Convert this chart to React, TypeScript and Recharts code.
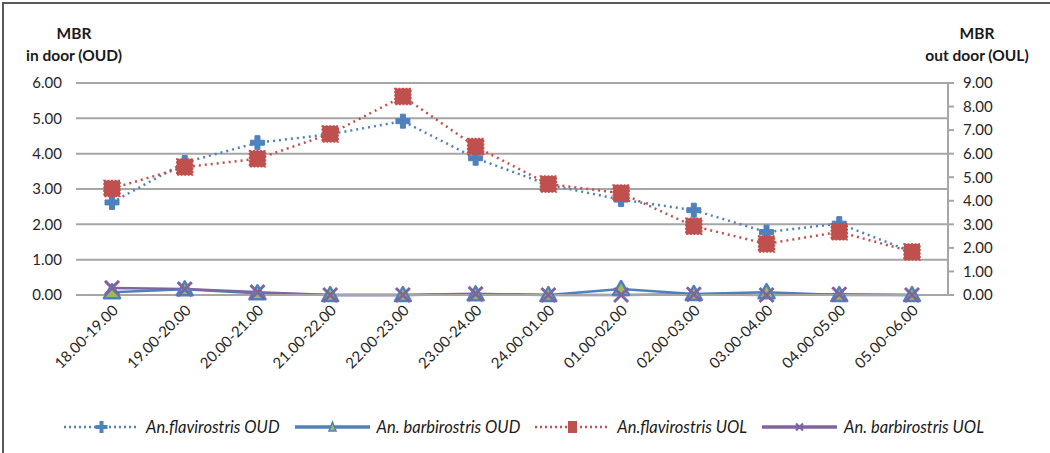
import { CartesianGrid, Line, LineChart, XAxis, YAxis } from "recharts";

const hours = [
  "18.00-19.00", "19.00-20.00", "20.00-21.00", "21.00-22.00", "22.00-23.00", "23.00-24.00",
  "24.00-01.00", "01.00-02.00", "02.00-03.00", "03.00-04.00", "04.00-05.00", "05.00-06.00",
];
const flavOUD = [2.62, 3.75, 4.31, 4.55, 4.92, 3.87, 3.12, 2.7, 2.4, 1.78, 2.02, 1.22];
const barbOUD = [0.08, 0.16, 0.05, 0, 0, 0.02, 0, 0.17, 0.03, 0.08, 0, 0];
const flavUOL = [4.52, 5.43, 5.78, 6.84, 8.43, 6.3, 4.71, 4.33, 2.92, 2.17, 2.68, 1.83];
const barbUOL = [0.3, 0.25, 0.12, 0, 0, 0.05, 0, 0, 0.03, 0, 0.03, 0];

const leftTicks = [0, 1, 2, 3, 4, 5, 6];
const rightTicks = [0, 1, 2, 3, 4, 5, 6, 7, 8, 9];

const data = hours.map((h, i) => ({
  hour: h,
  flavOUD: flavOUD[i],
  barbOUD: barbOUD[i],
  flavUOL: flavUOL[i],
  barbUOL: barbUOL[i],
}));

const BLUE = "#4f81bd";
const RED = "#c0504d";
const PURPLE = "#8064a2";
const GREEN = "#9bbb59";
const GRID = "#a6a6a6";
const FONT = "Lato, 'Open Sans', sans-serif";

const PlusDot = ({ cx, cy }: any) => (
  <path
    d={`M${cx - 2.5},${cy - 7}h5v4.5h4.5v5h-4.5v4.5h-5v-4.5h-4.5v-5h4.5z`}
    fill={BLUE}
    stroke={BLUE}
    strokeWidth={1}
  />
);

const TriDot = ({ cx, cy }: any) => (
  <path d={`M${cx},${cy - 8}L${cx + 8},${cy + 6}L${cx - 8},${cy + 6}z`} fill={GREEN} stroke={BLUE} strokeWidth={2.5} strokeLinejoin="round" />
);

const SquareDot = ({ cx, cy }: any) => (
  <rect x={cx - 8} y={cy - 8} width={16} height={16} fill={RED} stroke={RED} strokeWidth={1.5} strokeDasharray="2 1.5" />
);

const XDot = ({ cx, cy }: any) => (
  <path d={`M${cx - 7},${cy - 7}L${cx + 7},${cy + 7}M${cx + 7},${cy - 7}L${cx - 7},${cy + 7}`} stroke={PURPLE} strokeWidth={3} />
);

const XTick = ({ x, y, payload }: any) => (
  <text
    x={x}
    y={y}
    transform={`rotate(-45 ${x} ${y})`}
    textAnchor="end"
    dy={8}
    dx={2}
    fontSize={15}
    fill="#262626"
    fontFamily={FONT}
  >
    {payload.value}
  </text>
);

const legendItems = [
  { label: "An.flavirostris OUD", color: BLUE, dash: "2 3", marker: "plus" },
  { label: "An. barbirostris OUD", color: BLUE, dash: undefined, marker: "tri" },
  { label: "An.flavirostris UOL", color: RED, dash: "2 3", marker: "square" },
  { label: "An. barbirostris UOL", color: PURPLE, dash: undefined, marker: "x" },
];

function LegendIcon({ color, dash, marker }: { color: string; dash?: string; marker: string }) {
  return (
    <svg width={75} height={16} style={{ marginRight: 7 }}>
      <line x1={0} y1={8} x2={75} y2={8} stroke={color} strokeWidth={dash ? 2.5 : 3.5} strokeDasharray={dash} />
      {marker === "plus" && <path d="M35.5,2h4v4h4v4h-4v4h-4v-4h-4v-4h4z" fill={BLUE} />}
      {marker === "tri" && <path d="M37.5,3L41,12L34,12z" fill={GREEN} stroke={BLUE} strokeWidth={1.5} />}
      {marker === "square" && <rect x={33} y={2} width={9} height={12} fill={RED} />}
      {marker === "x" && <path d="M34,4.5L41,11.5M41,4.5L34,11.5" stroke={PURPLE} strokeWidth={2.2} />}
    </svg>
  );
}

export default function App() {
  return (
    <div
      style={{
        position: "absolute",
        left: 0,
        top: 0,
        width: 1050,
        height: 453,
        background: "#fff",
        overflow: "hidden",
        fontFamily: FONT,
      }}
    >
      <div
        style={{
          position: "absolute",
          left: 2,
          top: 2,
          width: 1100,
          height: 500,
          borderLeft: "2px solid #595959",
          borderTop: "2px solid #595959",
        }}
      />
      <div style={{ position: "absolute", left: -1, top: 22, width: 150, textAlign: "center", fontWeight: 700, fontSize: 15.5, lineHeight: "22px", color: "#1a1a1a" }}>
        MBR
        <br />
        in door (OUD)
      </div>
      <div style={{ position: "absolute", left: 902, top: 22, width: 150, textAlign: "center", fontWeight: 700, fontSize: 15.5, lineHeight: "22px", color: "#1a1a1a" }}>
        MBR
        <br />
        out door (OUL)
      </div>
      <LineChart
        width={1050}
        height={453}
        data={data}
        margin={{ top: 83, right: 0, bottom: 0, left: 0 }}
        style={{ position: "absolute", left: 0, top: 0 }}
      >
        <CartesianGrid vertical={false} stroke={GRID} strokeWidth={2} yAxisId="left" />
        <XAxis
          dataKey="hour"
          height={158}
          interval={0}
          padding={{ left: 36, right: 36 }}
          axisLine={{ stroke: GRID, strokeWidth: 2 }}
          tickLine={false}
          tick={<XTick />}
          tickSize={0}
          tickMargin={12}
        />
        <YAxis
          yAxisId="left"
          width={76}
          domain={[0, 6]}
          ticks={leftTicks}
          tickFormatter={(v: number) => v.toFixed(2)}
          axisLine={false}
          tickLine={false}
          tickSize={0}
          tickMargin={14}
          tick={{ fontSize: 15, fill: "#262626", fontFamily: FONT }}
          interval={0}
        />
        <YAxis
          yAxisId="right"
          orientation="right"
          width={102}
          domain={[0, 9]}
          ticks={rightTicks}
          tickFormatter={(v: number) => v.toFixed(2)}
          axisLine={{ stroke: GRID, strokeWidth: 2 }}
          tickLine={{ stroke: GRID, strokeWidth: 2 }}
          tickSize={6}
          tickMargin={9}
          tick={{ fontSize: 15, fill: "#262626", fontFamily: FONT, textAnchor: "start" }}
          interval={0}
        />
        <Line
          yAxisId="left"
          dataKey="flavOUD"
          stroke={BLUE}
          strokeWidth={2.5}
          strokeDasharray="2 4"
          dot={<PlusDot />}
          isAnimationActive={false}
        />
        <Line
          yAxisId="left"
          dataKey="barbOUD"
          stroke={BLUE}
          strokeWidth={2.5}
          dot={<TriDot />}
          isAnimationActive={false}
        />
        <Line
          yAxisId="right"
          dataKey="flavUOL"
          stroke={RED}
          strokeWidth={2.5}
          strokeDasharray="2 4"
          dot={<SquareDot />}
          isAnimationActive={false}
        />
        <Line
          yAxisId="right"
          dataKey="barbUOL"
          stroke={PURPLE}
          strokeWidth={2.5}
          dot={<XDot />}
          isAnimationActive={false}
        />
      </LineChart>
      <div
        style={{
          position: "absolute",
          left: 64,
          top: 417,
          width: 940,
          display: "flex",
          alignItems: "center",
          fontSize: 16.5,
          fontStyle: "italic",
          color: "#1a1a1a",
        }}
      >
        {legendItems.map((it) => (
          <div key={it.label} style={{ display: "flex", alignItems: "center", marginRight: 15 }}>
            <LegendIcon color={it.color} dash={it.dash} marker={it.marker} />
            <span>{it.label}</span>
          </div>
        ))}
      </div>
    </div>
  );
}
